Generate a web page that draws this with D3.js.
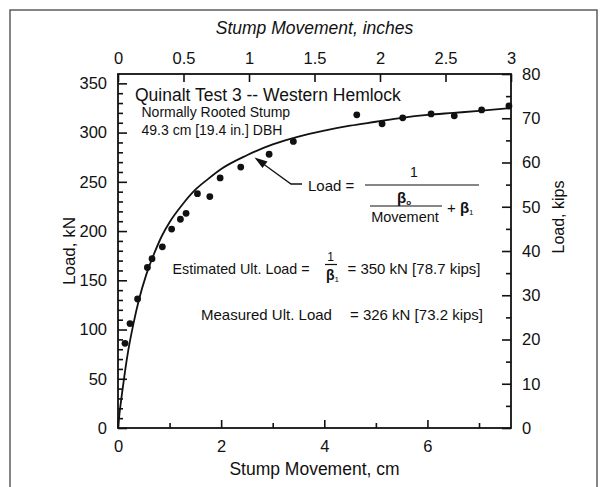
<!DOCTYPE html>
<html>
<head>
<meta charset="utf-8">
<script src="https://cdn.jsdelivr.net/npm/d3@7"></script>
<style>
  html, body { margin: 0; padding: 0; background: #fff; }
  svg { display: block; }
  text { font-family: 'Liberation Sans', Arial, Helvetica, sans-serif; fill: #111; }
</style>
</head>
<body>
<svg id="chart" width="602" height="487"></svg>
<script>
// ---- Data ----
const movementCm = [0.136, 0.233, 0.38, 0.57, 0.66, 0.86, 1.04, 1.21, 1.32, 1.54, 1.78, 1.98, 2.38, 2.93, 3.40, 4.63, 5.12, 5.52, 6.07, 6.52, 7.05, 7.58];
const loadKN     = [86, 106, 131, 163, 172, 184, 202, 212, 218, 238, 235, 254, 265, 278, 291, 318, 309, 315, 319, 317, 323, 327];

// fitted hyperbolic curve
const curveMovement = [0, 0.03, 0.08, 0.14, 0.2, 0.3, 0.4, 0.55, 0.7, 0.85, 1.0, 1.25, 1.5, 1.75, 2.0, 2.5, 3.0, 3.5, 4.0, 4.5, 5.0, 5.5, 6.0, 6.5, 7.0, 7.62];
const curveLoad     = [0, 15, 36, 59, 79, 106, 129, 156, 177, 195, 209, 227, 242, 253, 263, 277, 288, 296, 302, 307, 311, 315, 318, 320, 322, 325];

const bottomTicks = [0, 2, 4, 6];
const bottomMinor = [1, 3, 5, 7];
const topTicks = [0, 0.5, 1, 1.5, 2, 2.5, 3];
const leftTicks = [0, 50, 100, 150, 200, 250, 300, 350];
const leftMinor = d3.range(10, 360, 10).filter(v => v % 50 !== 0);
const rightTicks = [0, 10, 20, 30, 40, 50, 60, 70, 80];
const rightMinor = [5, 15, 25, 35, 45, 55, 65, 75];

// ---- Layout ----
const svg = d3.select('#chart');
const L = 118, R = 511, T = 74, B = 428;

const x = d3.scaleLinear().domain([0, 7.62]).range([L, R]);
const xIn = d3.scaleLinear().domain([0, 3]).range([L, R]);
const yKN = d3.scaleLinear().domain([0, 359.5]).range([B, T]);
const yKips = d3.scaleLinear().domain([0, 80]).range([B, T]);

// outer frame
svg.append('rect').attr('x', 10).attr('y', 10).attr('width', 587).attr('height', 495)
  .attr('fill', 'none').attr('stroke', '#444').attr('stroke-width', 1.3);

const fs = 16.5;
function styleAxis(g) {
  g.select('.domain').remove();
  g.selectAll('line').attr('stroke', '#111').attr('stroke-width', 1.6);
  g.selectAll('text').attr('font-size', fs).attr('fill', '#111')
    .attr('font-family', "'Liberation Sans', Arial, sans-serif");
}

// bottom axis
svg.append('g').attr('transform', `translate(0,${B})`)
  .call(d3.axisBottom(x).tickValues(bottomTicks).tickFormat(d3.format('d')).tickSizeInner(-8).tickSizeOuter(0).tickPadding(12))
  .call(styleAxis);
svg.append('g').attr('transform', `translate(0,${B})`)
  .call(d3.axisBottom(x).tickValues(bottomMinor).tickFormat('').tickSizeInner(-5).tickSizeOuter(0))
  .call(styleAxis);

// top axis
svg.append('g').attr('transform', `translate(0,${T})`)
  .call(d3.axisTop(xIn).tickValues(topTicks).tickFormat(d => d3.format('')(d)).tickSizeInner(-8).tickSizeOuter(0).tickPadding(10))
  .call(styleAxis);

// left axis
svg.append('g').attr('transform', `translate(${L},0)`)
  .call(d3.axisLeft(yKN).tickValues(leftTicks).tickFormat(d3.format('d')).tickSizeInner(-9).tickSizeOuter(0).tickPadding(11))
  .call(styleAxis);
svg.append('g').attr('transform', `translate(${L},0)`)
  .call(d3.axisLeft(yKN).tickValues(leftMinor).tickFormat('').tickSizeInner(-5).tickSizeOuter(0))
  .call(styleAxis);

// right axis
svg.append('g').attr('transform', `translate(${R},0)`)
  .call(d3.axisRight(yKips).tickValues(rightTicks).tickFormat(d3.format('d')).tickSizeInner(-9).tickSizeOuter(0).tickPadding(11))
  .call(styleAxis);
svg.append('g').attr('transform', `translate(${R},0)`)
  .call(d3.axisRight(yKips).tickValues(rightMinor).tickFormat('').tickSizeInner(-5).tickSizeOuter(0))
  .call(styleAxis);

// plot box
svg.append('rect').attr('x', L).attr('y', T).attr('width', R - L).attr('height', B - T)
  .attr('fill', 'none').attr('stroke', '#111').attr('stroke-width', 1.8);

// axis titles
svg.append('text').attr('x', (L + R) / 2).attr('y', 34).attr('text-anchor', 'middle')
  .attr('font-size', 17.5).attr('font-style', 'italic').text('Stump Movement, inches');
svg.append('text').attr('x', (L + R) / 2).attr('y', 475).attr('text-anchor', 'middle')
  .attr('font-size', 17.5).text('Stump Movement, cm');
svg.append('text').attr('transform', `translate(75,${(T + B) / 2}) rotate(-90)`).attr('text-anchor', 'middle')
  .attr('font-size', 17).text('Load, kN');
svg.append('text').attr('transform', `translate(564,217) rotate(-90)`).attr('text-anchor', 'middle')
  .attr('font-size', 16).text('Load, kips');

// fitted curve
const pts = curveMovement.map((m, i) => [m, curveLoad[i]]);
svg.append('path').datum(pts)
  .attr('d', d3.line().x(d => x(d[0])).y(d => yKN(d[1])).curve(d3.curveMonotoneX))
  .attr('fill', 'none').attr('stroke', '#111').attr('stroke-width', 1.8);

// data points
svg.append('g').selectAll('circle').data(movementCm.map((m, i) => [m, loadKN[i]]))
  .join('circle').attr('cx', d => x(d[0])).attr('cy', d => yKN(d[1])).attr('r', 3.4).attr('fill', '#111');

// annotations
svg.append('text').attr('x', 135).attr('y', 101).attr('font-size', 17.5).text('Quinalt Test 3 -- Western Hemlock');
svg.append('text').attr('x', 141.5).attr('y', 117).attr('font-size', 14).text('Normally Rooted Stump');
svg.append('text').attr('x', 141.5).attr('y', 135).attr('font-size', 14).text('49.3 cm [19.4 in.] DBH');

// arrow
svg.append('path').attr('d', 'M262,163 L291,184 L302,184')
  .attr('fill', 'none').attr('stroke', '#111').attr('stroke-width', 1.3);
svg.append('path').attr('d', 'M254.5,157.5 L267.5,161.5 L262.5,168 Z').attr('fill', '#111');

// formula
svg.append('text').attr('x', 308).attr('y', 191).attr('font-size', 15).text('Load =');
svg.append('line').attr('x1', 365).attr('x2', 479).attr('y1', 185).attr('y2', 185).attr('stroke', '#111').attr('stroke-width', 1.2);
svg.append('text').attr('x', 414).attr('y', 177).attr('text-anchor', 'middle').attr('font-size', 14).text('1');
const b0 = svg.append('text').attr('x', 397).attr('y', 203).attr('font-size', 15).attr('font-weight', 'bold');
b0.append('tspan').text('β');
b0.append('tspan').attr('font-size', 8).attr('dy', 2).text('o');
svg.append('line').attr('x1', 370).attr('x2', 442).attr('y1', 206).attr('y2', 206).attr('stroke', '#111').attr('stroke-width', 1.2);
svg.append('text').attr('x', 405).attr('y', 222).attr('text-anchor', 'middle').attr('font-size', 14.5).text('Movement');
const b1 = svg.append('text').attr('x', 447).attr('y', 213).attr('font-size', 15);
b1.append('tspan').text('+ ');
b1.append('tspan').attr('font-weight', 'bold').text('β');
b1.append('tspan').attr('font-size', 8).attr('dy', 2).text('1');

// estimated
svg.append('text').attr('x', 172.5).attr('y', 274).attr('font-size', 14.3).text('Estimated Ult. Load =');
svg.append('text').attr('x', 330.5).attr('y', 261).attr('text-anchor', 'middle').attr('font-size', 12).text('1');
svg.append('line').attr('x1', 325).attr('x2', 337).attr('y1', 264.5).attr('y2', 264.5).attr('stroke', '#111').attr('stroke-width', 1.2);
const b1e = svg.append('text').attr('x', 326).attr('y', 280).attr('font-size', 14).attr('font-weight', 'bold');
b1e.append('tspan').text('β');
b1e.append('tspan').attr('font-size', 8).attr('dy', 2).attr('font-weight', 'normal').text('1');
svg.append('text').attr('x', 347.5).attr('y', 274).attr('font-size', 15).text('= 350 kN [78.7 kips]');

// measured
svg.append('text').attr('x', 201).attr('y', 320).attr('font-size', 15).text('Measured Ult. Load');
svg.append('text').attr('x', 350).attr('y', 320).attr('font-size', 15).text('= 326 kN [73.2 kips]');
</script>
</body>
</html>
